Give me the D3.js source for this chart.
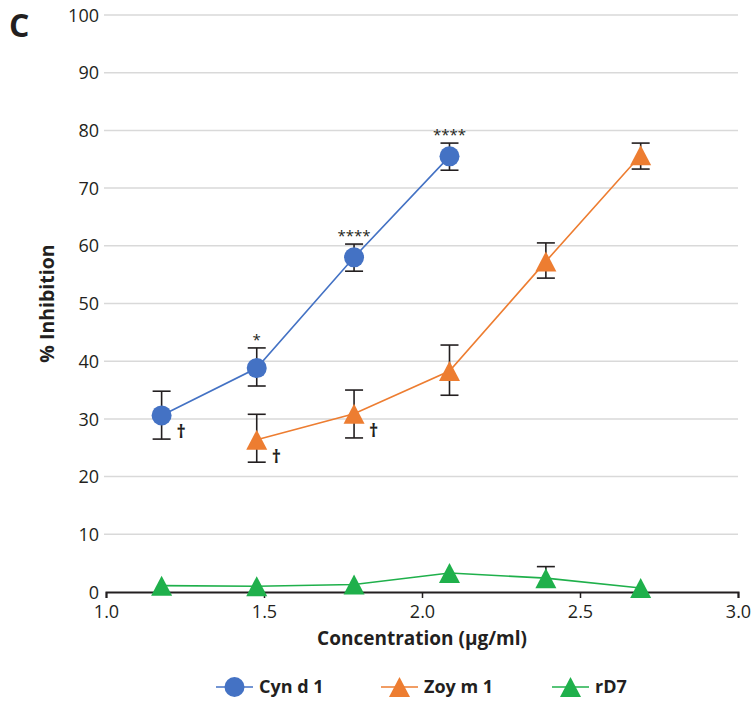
<!DOCTYPE html>
<html lang="en">
<head>
<meta charset="utf-8">
<title>% Inhibition</title>
<style>
body { margin: 0; background: #fff; }
text { font-family: "Open Sans", "Noto Sans", sans-serif; fill: #231f20; }
.grid line { stroke: #d9d9d9; stroke-width: 1.5px; }
.tick text { font-size: 18px; }
.err line { stroke: #231f20; stroke-width: 1.6px; }
</style>
</head>
<body>
<div id="chart"></div>
<script src="https://d3js.org/d3.v7.min.js"></script>
<script>

// log10 concentrations
const concCyn = [1.176, 1.477, 1.785, 2.087];
const concZoy = [1.477, 1.785, 2.087, 2.392, 2.692];
const concRd7 = [1.176, 1.477, 1.785, 2.087, 2.392, 2.692];

const cynMean = [30.6, 38.8, 58.0, 75.5];
const cynLo   = [26.5, 35.7, 55.6, 73.1];
const cynHi   = [34.8, 42.3, 60.3, 77.8];

const zoyMean = [26.4, 30.9, 38.3, 57.3, 75.7];
const zoyLo   = [22.5, 26.7, 34.1, 54.4, 73.3];
const zoyHi   = [30.8, 35.0, 42.8, 60.5, 77.8];

const rd7Mean = [1.1, 1.0, 1.3, 3.3, 2.4, 0.7];
const rd7Hi   = [null, null, null, null, 4.4, null];

const stars = [
  { x: 1.477, y: 42.3, label: "*" },
  { x: 1.785, y: 60.3, label: "****" },
  { x: 2.087, y: 77.8, label: "****" }
];
const daggers = [
  { x: 1.176, y: 30.6 },
  { x: 1.477, y: 26.4 },
  { x: 1.785, y: 30.9 }
];

const xTicks = [1.0, 1.5, 2.0, 2.5, 3.0];
const yTicks = d3.range(0, 101, 10);

const width = 754, height = 702;

const svg = d3.select("#chart").append("svg")
    .attr("width", width)
    .attr("height", height);

const x = d3.scaleLinear().domain([1, 3]).range([106, 738]);
const y = d3.scaleLinear().domain([0, 100]).range([592, 15]);

// gridlines
svg.append("g")
    .attr("class", "grid")
  .selectAll("line")
  .data(yTicks.filter(d => d > 0))
  .enter().append("line")
    .attr("x1", x(1) - 2)
    .attr("x2", x(3))
    .attr("y1", d => y(d))
    .attr("y2", d => y(d));

// y axis (labels only)
const yAxis = svg.append("g")
    .attr("transform", "translate(" + (x(1) - 7) + ",0)")
    .call(d3.axisLeft(y).tickValues(yTicks).tickSize(0).tickPadding(0));
yAxis.select(".domain").remove();
yAxis.selectAll("text").attr("dy", "0.34em");

// x axis
const xAxis = svg.append("g")
    .attr("transform", "translate(0," + y(0) + ")")
    .call(d3.axisBottom(x).tickValues(xTicks).tickFormat(d3.format(".1f")).tickSizeOuter(0).tickSize(6).tickPadding(5));
xAxis.select(".domain").attr("stroke", "#231f20").attr("stroke-width", 2);
xAxis.selectAll(".tick line").attr("stroke", "#231f20").attr("stroke-width", 1.5);
xAxis.selectAll("text").attr("dy", "0.85em");

// axis titles
svg.append("text")
    .attr("x", (x(1) + x(3)) / 2)
    .attr("y", 645)
    .attr("text-anchor", "middle")
    .attr("font-size", 19)
    .attr("font-weight", "bold")
    .text("Concentration (µg/ml)");

svg.append("text")
    .attr("transform", "translate(54," + y(50) + ") rotate(-90)")
    .attr("text-anchor", "middle")
    .attr("font-size", 19.5)
    .attr("font-weight", "bold")
    .text("% Inhibition");

svg.append("text")
    .attr("x", 9)
    .attr("y", 37)
    .attr("font-size", 32)
    .attr("font-weight", "bold")
    .text("C");

const blue = "#4472c4", orange = "#ed7d31", green = "#1fb04b";
const line = d3.line().x(d => x(d[0])).y(d => y(d[1]));
const tri = "M0,-10L10.5,10L-10.5,10Z";

function drawSeries(xs, mean, lo, hi, color, shape) {
  const pts = xs.map((v, i) => [v, mean[i], lo ? lo[i] : null, hi ? hi[i] : null]);
  const g = svg.append("g");

  g.append("path")
      .datum(pts)
      .attr("fill", "none")
      .attr("stroke", color)
      .attr("stroke-width", 1.6)
      .attr("d", line);

  const err = g.append("g").attr("class", "err")
    .selectAll("g")
    .data(pts)
    .enter().append("g");

  err.filter(d => d[3] != null).append("line")
      .attr("x1", d => x(d[0])).attr("x2", d => x(d[0]))
      .attr("y1", d => y(d[3])).attr("y2", d => y(d[2] != null ? d[2] : d[1]));
  err.filter(d => d[3] != null).append("line")
      .attr("x1", d => x(d[0]) - 9).attr("x2", d => x(d[0]) + 9)
      .attr("y1", d => y(d[3])).attr("y2", d => y(d[3]));
  err.filter(d => d[2] != null).append("line")
      .attr("x1", d => x(d[0]) - 9).attr("x2", d => x(d[0]) + 9)
      .attr("y1", d => y(d[2])).attr("y2", d => y(d[2]));

  if (shape === "circle") {
    g.selectAll("circle").data(pts).enter().append("circle")
        .attr("cx", d => x(d[0]))
        .attr("cy", d => y(d[1]))
        .attr("r", 10)
        .attr("fill", color);
  } else {
    g.selectAll(".mk").data(pts).enter().append("path")
        .attr("class", "mk")
        .attr("transform", d => "translate(" + x(d[0]) + "," + y(d[1]) + ")")
        .attr("d", tri)
        .attr("fill", color);
  }
}

drawSeries(concRd7, rd7Mean, null, rd7Hi, green, "triangle");
drawSeries(concCyn, cynMean, cynLo, cynHi, blue, "circle");
drawSeries(concZoy, zoyMean, zoyLo, zoyHi, orange, "triangle");

// significance markers
svg.selectAll(".star").data(stars).enter().append("text")
    .attr("class", "star")
    .attr("x", d => x(d.x))
    .attr("y", d => y(d.y) - 3)
    .attr("text-anchor", "middle")
    .attr("font-size", 15)
    .attr("fill", "#404040")
    .text(d => d.label);

svg.selectAll(".dag").data(daggers).enter().append("text")
    .attr("class", "dag")
    .attr("x", d => x(d.x) + 15)
    .attr("y", d => y(d.y) + 23)
    .attr("font-size", 18)
    .attr("font-weight", "bold")
    .text("\u2020");

// legend
const legendItems = [
  { name: "Cyn d 1", color: blue, shape: "circle", x: 216 },
  { name: "Zoy m 1", color: orange, shape: "triangle", x: 381 },
  { name: "rD7", color: green, shape: "triangle", x: 552 }
];
const lg = svg.append("g").attr("transform", "translate(0,687)");
const li = lg.selectAll("g").data(legendItems).enter().append("g")
    .attr("transform", d => "translate(" + d.x + ",0)");
li.append("line")
    .attr("x1", 0).attr("x2", 37)
    .attr("stroke", d => d.color).attr("stroke-width", 1.6);
li.filter(d => d.shape === "circle").append("circle")
    .attr("cx", 18.5).attr("r", 10).attr("fill", d => d.color);
li.filter(d => d.shape === "triangle").append("path")
    .attr("transform", "translate(18.5,0)")
    .attr("d", tri).attr("fill", d => d.color);
li.append("text")
    .attr("x", 43)
    .attr("dy", "0.36em")
    .attr("font-size", 18)
    .attr("font-weight", "bold")
    .text(d => d.name);

</script>
</body>
</html>
